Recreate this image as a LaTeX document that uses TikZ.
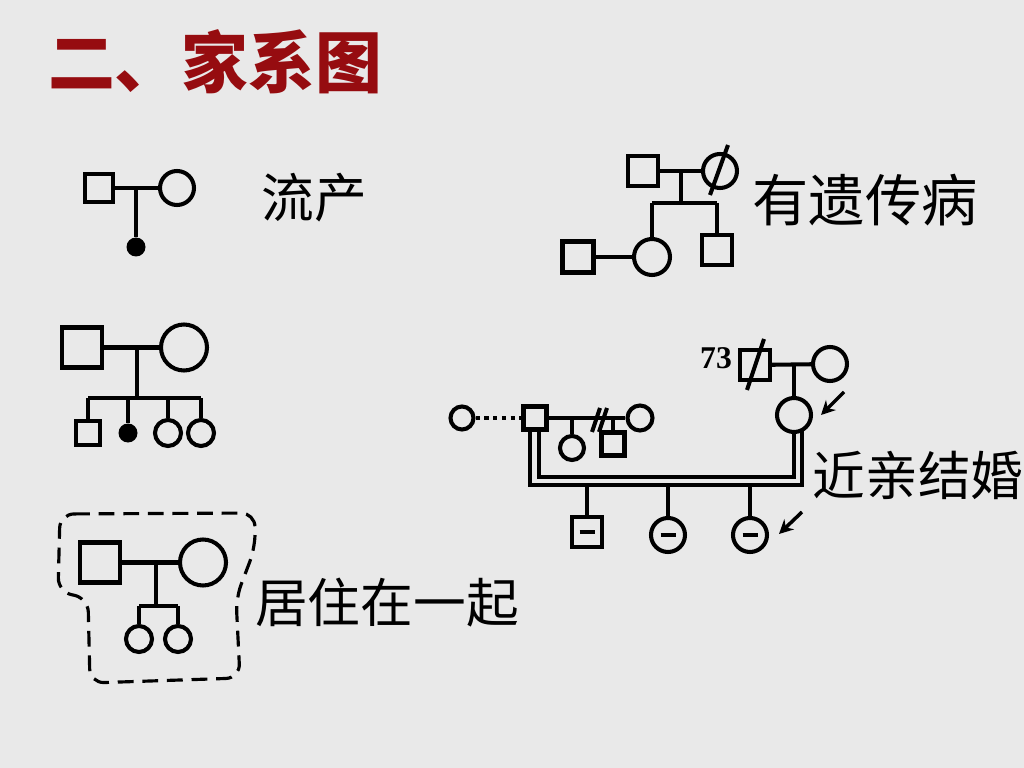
\documentclass[tikz,border=0pt]{standalone}
\usepackage{fontspec}
\newfontfamily\cjk{Noto Sans CJK SC}
\newfontfamily\numfont{Liberation Serif}
\usetikzlibrary{arrows.meta}
\definecolor{paper}{RGB}{233,233,233}
\definecolor{titlered}{RGB}{150,12,16}
\newcommand{\carrier}{\rule[-0.045cm]{0.3cm}{0.09cm}}
\pgfdeclarelayer{edgelayer}
\pgfdeclarelayer{nodelayer}
\pgfsetlayers{edgelayer,nodelayer,main}
\tikzstyle{none}=[inner sep=0pt]
\tikzstyle{male}=[rectangle,draw=black,line width=2.3pt,inner sep=0pt,minimum size=0.6cm]
\tikzstyle{female}=[circle,draw=black,line width=2.3pt,inner sep=0pt,minimum size=0.68cm]
\tikzstyle{lost}=[circle,fill=black,inner sep=0pt,minimum size=0.38cm]
\tikzstyle{simple}=[-,draw=black,line width=2.3pt]
\tikzstyle{dots}=[-,draw=black,line width=2.3pt,dash pattern=on 2.5pt off 2.5pt]
\tikzstyle{pointer}=[-{Stealth[length=8pt,width=8pt]},draw=black,line width=2pt]
\tikzstyle{household}=[draw=black,line width=1.8pt,dash pattern=on 9pt off 5pt,rounded corners=8pt]
\tikzstyle{words}=[inner sep=0pt,font=\cjk\fontsize{30}{32}\selectfont]
\tikzstyle{heading}=[inner sep=0pt,text=titlered,font=\cjk\bfseries\fontsize{38}{40}\selectfont]

\begin{document}
\begin{tikzpicture}
	\begin{pgfonlayer}{nodelayer}
		\node [style=heading] (75) at (4.30, -1.24) {二、家系图};
		% miscarriage
		\node [style=male, minimum size=0.56cm] (0) at (1.98, -3.76) {};
		\node [style=female] (1) at (3.54, -3.76) {};
		\node [style=none] (2) at (2.72, -3.76) {};
		\node [style=lost] (3) at (2.72, -4.94) {};
		\node [style=words] (4) at (6.28, -3.96) {流产};
		% family with four children
		\node [style=male, minimum size=0.8cm] (5) at (1.64, -6.95) {};
		\node [style=female, minimum size=0.92cm] (6) at (3.68, -6.95) {};
		\node [style=none] (7) at (2.74, -6.95) {};
		\node [style=none] (8) at (2.74, -7.96) {};
		\node [style=none] (9) at (1.76, -7.96) {};
		\node [style=none] (10) at (2.56, -7.96) {};
		\node [style=none] (11) at (3.36, -7.96) {};
		\node [style=none] (12) at (4.02, -7.96) {};
		\node [style=male, minimum size=0.48cm] (13) at (1.76, -8.66) {};
		\node [style=lost] (14) at (2.56, -8.66) {};
		\node [style=female, minimum size=0.52cm] (15) at (3.36, -8.66) {};
		\node [style=female, minimum size=0.52cm] (16) at (4.02, -8.66) {};
		% living together
		\node [style=male, minimum size=0.8cm] (17) at (2.00, -11.25) {};
		\node [style=female, minimum size=0.92cm] (18) at (4.06, -11.25) {};
		\node [style=none] (19) at (3.12, -11.25) {};
		\node [style=none] (20) at (3.12, -12.12) {};
		\node [style=none] (21) at (2.78, -12.12) {};
		\node [style=none] (22) at (3.56, -12.12) {};
		\node [style=female, minimum size=0.52cm] (23) at (2.78, -12.78) {};
		\node [style=female, minimum size=0.52cm] (24) at (3.56, -12.78) {};
		\node [style=words] (25) at (7.74, -12.06) {居住在一起};
		% hereditary disease
		\node [style=male] (26) at (12.86, -3.42) {};
		\node [style=female] (27) at (14.40, -3.42) {};
		\node [style=none] (28) at (14.20, -3.90) {};
		\node [style=none] (29) at (14.56, -2.90) {};
		\node [style=none] (30) at (13.62, -3.42) {};
		\node [style=none] (31) at (13.62, -4.06) {};
		\node [style=none] (32) at (13.04, -4.06) {};
		\node [style=none] (33) at (14.34, -4.06) {};
		\node [style=female, minimum size=0.72cm] (34) at (13.04, -5.14) {};
		\node [style=male] (35) at (14.34, -5.00) {};
		\node [style=male, minimum size=0.62cm] (36) at (11.56, -5.14) {};
		\node [style=words, font=\cjk\fontsize{32}{34}\selectfont] (37) at (17.30, -4.00) {有遗传病};
		% consanguineous marriage
		\node [style=none, font=\numfont\bfseries\fontsize{18}{20}\selectfont] (38) at (14.32, -7.16) {73};
		\node [style=male] (39) at (15.10, -7.30) {};
		\node [style=none] (40) at (14.94, -7.80) {};
		\node [style=none] (41) at (15.28, -6.78) {};
		\node [style=female] (42) at (16.60, -7.28) {};
		\node [style=none] (43) at (15.88, -7.28) {};
		\node [style=female] (44) at (15.88, -8.30) {};
		\node [style=none] (45) at (16.88, -7.84) {};
		\node [style=none] (46) at (16.42, -8.30) {};
		\node [style=female, minimum size=0.46cm] (47) at (9.24, -8.36) {};
		\node [style=male, minimum size=0.46cm] (48) at (10.70, -8.36) {};
		\node [style=female, minimum size=0.5cm] (49) at (12.80, -8.36) {};
		\node [style=none] (50) at (11.44, -8.36) {};
		\node [style=female, minimum size=0.48cm] (51) at (11.44, -8.96) {};
		\node [style=none] (52) at (12.26, -8.36) {};
		\node [style=male, minimum size=0.46cm] (53) at (12.26, -8.88) {};
		\node [style=none] (54) at (11.84, -8.64) {};
		\node [style=none] (55) at (12.00, -8.16) {};
		\node [style=none] (56) at (11.98, -8.64) {};
		\node [style=none] (57) at (12.14, -8.16) {};
		\node [style=none] (58) at (10.60, -8.59) {};
		\node [style=none] (59) at (10.60, -9.70) {};
		\node [style=none] (60) at (16.04, -9.70) {};
		\node [style=none] (61) at (16.04, -8.60) {};
		\node [style=none] (62) at (10.78, -8.59) {};
		\node [style=none] (63) at (10.78, -9.54) {};
		\node [style=none] (64) at (15.88, -9.54) {};
		\node [style=none] (65) at (15.88, -8.64) {};
		\node [style=none] (66) at (11.74, -9.70) {};
		\node [style=none] (67) at (13.36, -9.70) {};
		\node [style=none] (68) at (15.00, -9.70) {};
		\node [style=male] (69) at (11.74, -10.64) {\carrier};
		\node [style=female] (70) at (13.36, -10.70) {\carrier};
		\node [style=female] (71) at (15.00, -10.70) {\carrier};
		\node [style=none] (72) at (16.04, -10.24) {};
		\node [style=none] (73) at (15.58, -10.68) {};
		\node [style=words] (74) at (18.36, -9.50) {近亲结婚};
	\end{pgfonlayer}
	\begin{pgfonlayer}{edgelayer}
		\fill [paper] (0, 0) rectangle (20.48, -15.36);
		\useasboundingbox (0, 0) rectangle (20.48, -15.36);
		\draw [style=simple] (0) to (1);
		\draw [style=simple] (2.center) to (3);
		\draw [style=simple] (5) to (6);
		\draw [style=simple] (7.center) to (8.center);
		\draw [style=simple] (9.center) to (12.center);
		\draw [style=simple] (9.center) to (13);
		\draw [style=simple] (10.center) to (14);
		\draw [style=simple] (11.center) to (15);
		\draw [style=simple] (12.center) to (16);
		\draw [style=simple] (17) to (18);
		\draw [style=simple] (19.center) to (20.center);
		\draw [style=simple] (21.center) to (22.center);
		\draw [style=simple] (21.center) to (23);
		\draw [style=simple] (22.center) to (24);
		\draw [style=household] (1.20, -10.28) -- (5.10, -10.26) -- (5.10, -10.96) -- (4.72, -11.96) -- (4.80, -13.56) -- (1.80, -13.66) -- (1.76, -11.96) -- (1.16, -11.84) -- cycle;
		\draw [style=simple] (26) to (27);
		\draw [style=simple] (28.center) to (29.center);
		\draw [style=simple] (30.center) to (31.center);
		\draw [style=simple] (32.center) to (33.center);
		\draw [style=simple] (32.center) to (34);
		\draw [style=simple] (33.center) to (35);
		\draw [style=simple] (36) to (34);
		\draw [style=simple] (39) to (42);
		\draw [style=simple] (40.center) to (41.center);
		\draw [style=simple] (43.center) to (44);
		\draw [style=pointer] (45.center) to (46.center);
		\draw [style=dots] (47) to (48);
		\draw [style=simple] (48) to (49);
		\draw [style=simple] (50.center) to (51);
		\draw [style=simple] (52.center) to (53);
		\draw [style=simple] (54.center) to (55.center);
		\draw [style=simple] (56.center) to (57.center);
		\draw [style=simple] (58.center) to (59.center) to (60.center) to (61.center);
		\draw [style=simple] (62.center) to (63.center) to (64.center) to (65.center);
		\draw [style=simple] (66.center) to (69);
		\draw [style=simple] (67.center) to (70);
		\draw [style=simple] (68.center) to (71);
		\draw [style=pointer] (72.center) to (73.center);
	\end{pgfonlayer}
\end{tikzpicture}
\end{document}
